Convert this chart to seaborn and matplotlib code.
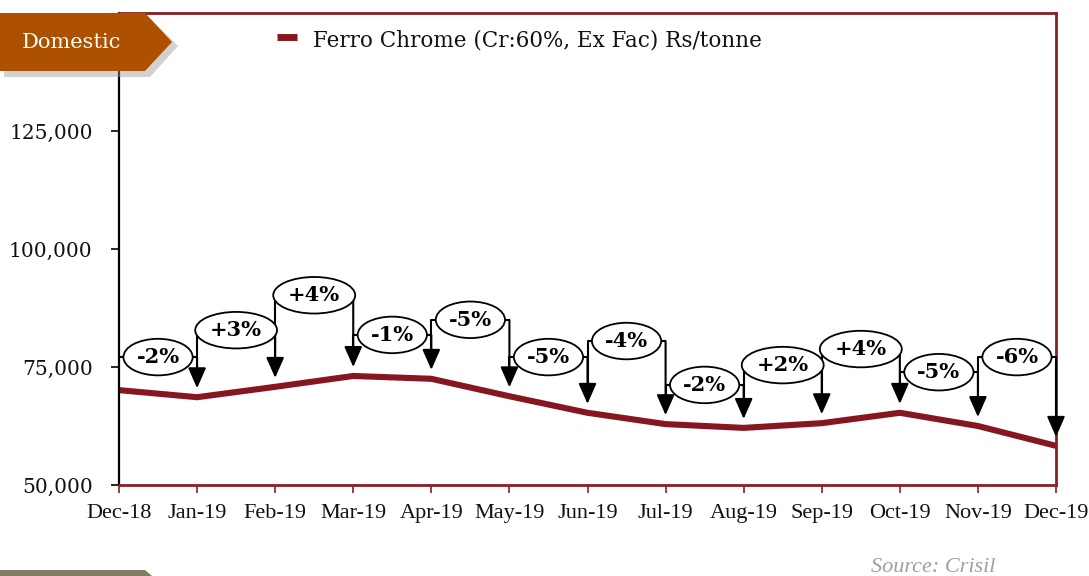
import matplotlib
matplotlib.use("Agg")
import matplotlib.pyplot as plt
import seaborn as sns
import pandas as pd
from matplotlib.patches import Polygon

months = ["Dec-18", "Jan-19", "Feb-19", "Mar-19", "Apr-19", "May-19", "Jun-19",
          "Jul-19", "Aug-19", "Sep-19", "Oct-19", "Nov-19", "Dec-19"]
prices = [70100, 68600, 70800, 73100, 72500, 68800, 65300, 62900, 62100, 63100, 65300, 62500, 58300]
changes = ["-2%", "+3%", "+4%", "-1%", "-5%", "-5%", "-4%", "-2%", "+2%", "+4%", "-5%", "-6%"]
bracket_levels = [77100, 82800, 90200, 81800, 85000, 77100, 80500, 71200, 75400, 78800, 73900, 77100]
yticks = [50000, 75000, 100000, 125000]
series_name = "Ferro Chrome (Cr:60%, Ex Fac) Rs/tonne"

LINE = "#861720"
SPINE = "#8B1E22"
SERIF = ["Liberation Serif", "DejaVu Serif"]
WIDE = ["DejaVu Serif", "Liberation Serif"]

sns.set_style("white")
plt.rcParams["font.family"] = SERIF

fig = plt.figure(figsize=(10.89, 5.76), dpi=100)
ax = fig.add_axes([119/1089, 1-485/576, (1056-119)/1089, (485-13)/576])

df = pd.DataFrame({"x": range(len(months)), "price": prices})
sns.lineplot(data=df, x="x", y="price", ax=ax, color=LINE, linewidth=4.4, legend=False)

ax.set_xlim(0, len(months) - 1)
ax.set_ylim(50000, 150000)
ax.set_xticks(range(len(months)))
ax.set_xticklabels(months, family=SERIF, fontsize=16)
ax.set_yticks(yticks)
ax.set_yticklabels([f"{v:,}" for v in yticks], family=WIDE, fontsize=14.5)
ax.set_xlabel("")
ax.set_ylabel("")
ax.tick_params(axis="x", direction="out", length=6, width=1.2, color=SPINE, pad=8, bottom=True)
ax.tick_params(axis="y", direction="out", length=6, width=1.2, color="black", pad=13, left=True)
for lbl in ax.get_xticklabels() + ax.get_yticklabels():
    lbl.set_color("#111111")

ax.spines["left"].set_color("black")
ax.spines["left"].set_linewidth(1.6)
for s in ["bottom", "top", "right"]:
    ax.spines[s].set_color(SPINE)
    ax.spines[s].set_linewidth(2)

gap = 1900
for i, (lab, lvl) in enumerate(zip(changes, bracket_levels), start=1):
    x0, x1 = i - 1, i
    ax.plot([x0, x1], [lvl, lvl], color="black", lw=1.5, zorder=4, solid_capstyle="butt")
    if i > 1:
        ax.plot([x0, x0], [lvl, prices[x0] + gap + 1500], color="black", lw=1.5, zorder=4)
    ax.annotate("", xy=(x1, prices[x1] + gap), xytext=(x1, lvl),
                arrowprops=dict(arrowstyle="-|>,head_width=0.55,head_length=1.25",
                                color="black", lw=1.5, shrinkA=0, shrinkB=0), zorder=5)
    ax.text((x0 + x1) / 2, lvl, lab, ha="center", va="center", fontsize=15,
            family=WIDE, fontweight="bold", color="black", zorder=6,
            bbox=dict(boxstyle="ellipse,pad=0.14", fc="white", ec="black", lw=1.3))

# legend
fig.add_artist(plt.Line2D([277/1089, 297/1089], [1-37/576, 1-37/576], color=LINE, lw=5,
                          solid_capstyle="butt"))
fig.text(313/1089, 1-40/576, series_name, fontsize=15.5, family=WIDE, color="#111111",
         va="center", ha="left")

# Domestic badge with shadow
sh = Polygon([(4/1089, 1-18/576), (150/1089, 1-18/576), (178/1089, 1-46/576),
              (150/1089, 1-77/576), (4/1089, 1-77/576)], closed=True,
             transform=fig.transFigure, fc="#9a9a9a", ec="none", alpha=0.45, zorder=9)
fig.add_artist(sh)
badge = Polygon([(0, 1-13/576), (145/1089, 1-13/576), (172/1089, 1-42/576),
                 (145/1089, 1-71/576), (0, 1-71/576)], closed=True,
                transform=fig.transFigure, fc="#AD5100", ec="none", zorder=10)
fig.add_artist(badge)
fig.text(22/1089, 1-43/576, "Domestic", fontsize=15, family=WIDE, color="white",
         va="center", ha="left", zorder=11)

# bottom partial badge
bb = Polygon([(0, 0), (0, 1-570/576), (145/1089, 1-570/576), (152/1089, 0)], closed=True,
             transform=fig.transFigure, fc="#857A62", ec="none", zorder=10)
fig.add_artist(bb)

fig.text(995/1089, 1-567/576, "Source: Crisil", fontsize=16, style="italic",
         color="#a0a0a0", ha="right", va="center")

fig.savefig("out.png", dpi=100)
